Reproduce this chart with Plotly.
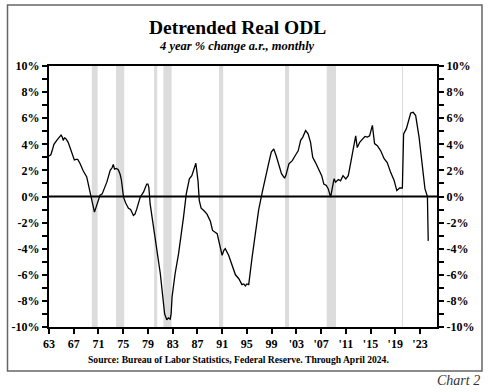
import plotly.graph_objects as go

# ---- data ----
dates = [1963.0, 1963.3, 1963.5, 1963.8, 1964.25, 1964.6, 1964.95, 1965.15, 1965.3, 1965.5, 1965.7,
         1966.1, 1966.4, 1966.7, 1967.1, 1967.4, 1967.65, 1968.0, 1968.55, 1969.1, 1969.5, 1969.9,
         1970.35, 1970.7, 1971.0, 1971.25, 1971.6, 1972.0, 1972.35, 1972.9, 1973.2, 1973.4, 1973.6,
         1973.9, 1974.2, 1974.5, 1974.7, 1975.05, 1975.4, 1975.85, 1976.2, 1976.65, 1976.9, 1977.2,
         1977.5, 1977.75, 1978.3, 1978.8, 1979.0, 1979.15, 1979.35, 1979.75, 1980.2, 1980.6, 1981.0,
         1981.35, 1981.7, 1982.05, 1982.3, 1982.6, 1982.75, 1982.9, 1983.4, 1983.95, 1984.4, 1984.75,
         1985.2, 1985.7, 1986.1, 1986.4, 1986.75, 1987.1, 1987.3, 1987.6, 1988.0, 1988.55, 1989.1,
         1989.45, 1989.8, 1990.2, 1990.7, 1991.0, 1991.3, 1991.5, 1992.05, 1992.6, 1993.15, 1993.7,
         1994.2, 1994.5, 1994.75, 1995.0, 1995.3, 1995.85, 1996.4, 1996.9, 1997.5, 1998.0, 1998.55,
         1998.95, 1999.35, 1999.75, 2000.2, 2000.6, 2001.1, 2001.3, 2001.8, 2002.35, 2002.9, 2003.3,
         2003.7, 2004.05, 2004.5, 2004.9, 2005.3, 2005.65, 2006.1, 2006.65, 2007.1, 2007.45, 2007.85,
         2008.15, 2008.55, 2008.8, 2009.1, 2009.35, 2009.8, 2010.15, 2010.55, 2011.0, 2011.4, 2011.8,
         2012.15, 2012.6, 2012.85, 2013.25, 2013.7, 2014.1, 2014.5, 2014.85, 2015.3, 2015.65, 2016.1,
         2016.65, 2017.2, 2017.7, 2018.25, 2018.8, 2019.25, 2019.7, 2020.15, 2020.35, 2020.8, 2021.1,
         2021.5, 2021.9, 2022.3, 2022.85, 2023.4, 2023.8, 2024.2, 2024.33]
values = [3.1, 3.2, 3.5, 4.0, 4.3, 4.5, 4.7, 4.55, 4.3, 4.5, 4.45,
          4.15, 3.7, 3.25, 2.8, 2.85, 2.85, 2.55, 1.95, 1.5, 0.7, -0.3,
          -1.2, -0.7, -0.2, 0.1, 0.2, 0.7, 1.1, 2.0, 2.2, 2.45, 2.1,
          2.15, 2.05, 1.7, 1.3, -0.05, -0.5, -0.9, -1.0, -1.45, -1.35, -0.95,
          -0.4, -0.05, 0.35, 0.95, 0.95, 0.7, -0.55, -1.85, -3.35, -4.75, -5.9,
          -7.45, -9.0, -9.45, -9.3, -9.4, -9.0, -7.7, -5.9, -4.4, -3.0, -1.6,
          0.2, 1.35, 1.6, 2.1, 2.55, 1.2, -0.3, -0.9, -1.05, -1.35, -1.9,
          -2.6, -2.75, -2.85, -3.9, -4.5, -4.1, -4.0, -4.5, -5.3, -6.0, -6.3,
          -6.75, -6.7, -6.85, -6.7, -6.75, -4.65, -2.6, -1.05, 0.35, 1.5, 2.6,
          3.4, 3.65, 3.1, 2.35, 1.75, 1.4, 1.6, 2.5, 2.75, 3.2, 3.5,
          4.3, 4.55, 5.05, 4.8, 4.15, 3.0, 2.6, 2.1, 1.6, 0.95, 0.85,
          0.6, -0.05, 0.6, 1.35, 1.1, 1.3, 1.2, 1.6, 1.35, 1.6, 2.6,
          3.5, 4.65, 3.75, 4.15, 4.4, 4.6, 4.55, 4.65, 5.45, 4.05, 3.9,
          3.5, 2.9, 2.6, 1.85, 1.25, 0.45, 0.65, 0.65, 4.8, 5.2, 5.8,
          6.4, 6.45, 6.2, 4.55, 2.5, 0.6, 0.0, -3.4]

recession_starts = [1969.92, 1973.83, 1980.0, 1981.5, 1990.5, 2001.17, 2007.92, 2020.08]
recession_ends = [1970.87, 1975.17, 1980.5, 1982.83, 1991.17, 2001.83, 2009.42, 2020.25]

x_tick_vals = [1963, 1967, 1971, 1975, 1979, 1983, 1987, 1991, 1995, 1999, 2003, 2007, 2011, 2015, 2019, 2023]
x_tick_text = ["63", "67", "71", "75", "79", "83", "87", "91", "95", "99", "'03", "'07", "'11", "'15", "'19", "'23"]
y_tick_vals = list(range(-10, 11))
y_tick_text = [("%d%%" % v) if v % 2 == 0 else "" for v in y_tick_vals]

title = "Detrended Real ODL"
subtitle = "4 year % change a.r., monthly"
source = "Source: Bureau of Labor Statistics, Federal Reserve. Through April 2024."
chart_label = "Chart 2"

FONT = "Liberation Serif, Times New Roman, serif"

fig = go.Figure()
fig.add_trace(go.Scatter(x=dates, y=values, mode="lines",
                         line=dict(color="black", width=1.3), showlegend=False, hoverinfo="skip"))
fig.add_trace(go.Scatter(x=[None], y=[None], yaxis="y2", showlegend=False, hoverinfo="skip"))

shapes = []
for s, e in zip(recession_starts, recession_ends):
    shapes.append(dict(type="rect", xref="x", yref="paper", x0=s, x1=e, y0=0, y1=1,
                       fillcolor="#dcdcdc", line=dict(width=0), layer="below"))
# zero line
shapes.append(dict(type="line", xref="paper", yref="y", x0=0, x1=1, y0=0, y1=0,
                   line=dict(color="black", width=1.8), layer="above"))
# outer frame
shapes.append(dict(type="rect", xref="paper", yref="paper",
                   x0=-41.5 / 388, x1=1 + 45 / 388, y0=-(371 - 327) / 261, y1=1 + (66 - 5) / 261,
                   line=dict(color="#666666", width=1.5), fillcolor="rgba(0,0,0,0)", layer="below"))

tickfont = dict(family=FONT, size=12, color="black", weight="bold")
axis_common = dict(showgrid=False, zeroline=False, showline=True, linecolor="black", linewidth=2,
                   ticks="outside", tickcolor="black", tickwidth=1.5, ticklen=5, tickfont=tickfont)

fig.update_layout(
    width=489, height=392,
    margin=dict(l=49, r=52, t=66, b=65),
    paper_bgcolor="white", plot_bgcolor="white",
    font=dict(family=FONT, color="black"),
    shapes=shapes,
    xaxis=dict(range=[1963.0, 2025.75], tickvals=x_tick_vals, ticktext=x_tick_text,
               mirror=True, **axis_common),
    yaxis=dict(range=[-10, 10], tickvals=y_tick_vals, ticktext=y_tick_text, mirror=True,
               **axis_common),
    yaxis2=dict(range=[-10, 10], tickvals=y_tick_vals, ticktext=y_tick_text, overlaying="y",
                side="right", **axis_common),
    annotations=[
        dict(text="<b>%s</b>" % title, xref="paper", yref="paper", x=(237 - 49) / 388, y=1 + (66 - 27) / 261,
             showarrow=False, xanchor="center", yanchor="middle", font=dict(family=FONT, size=19.5)),
        dict(text="<b><i>%s</i></b>" % subtitle, xref="paper", yref="paper", x=(237 - 49) / 388,
             y=1 + (66 - 46) / 261, showarrow=False, xanchor="center", yanchor="middle",
             font=dict(family=FONT, size=12.5)),
        dict(text="<b>%s</b>" % source, xref="paper", yref="paper", x=(238 - 49) / 388,
             y=-(359 - 327) / 261, showarrow=False, xanchor="center", yanchor="middle",
             font=dict(family=FONT, size=9.6)),
        dict(text="<i>%s</i>" % chart_label, xref="paper", yref="paper", x=(482 - 49) / 388,
             y=-(380 - 327) / 261, showarrow=False, xanchor="right", yanchor="middle",
             font=dict(family=FONT, size=14, color="#333333")),
    ],
)

fig.write_html("out.html", config={"displayModeBar": False},
               post_script="document.body.style.margin='0';document.body.style.overflow='hidden';")
